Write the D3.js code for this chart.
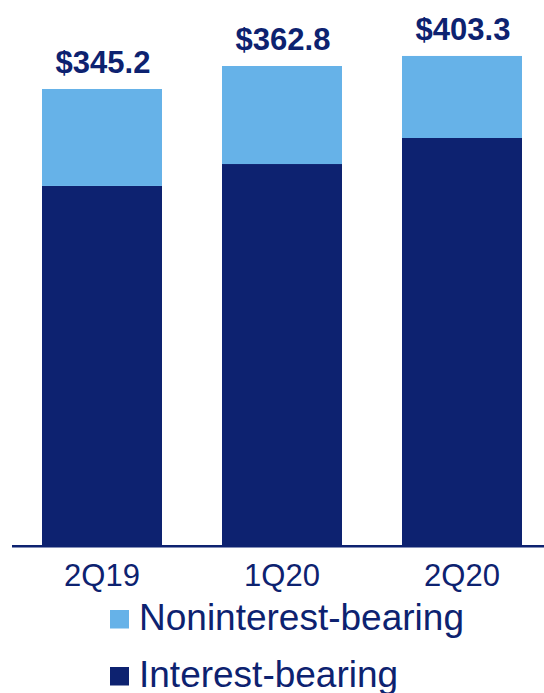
<!DOCTYPE html>
<html>
<head>
<meta charset="utf-8">
<script src="https://cdn.jsdelivr.net/npm/d3@7"></script>
<style>
  html, body { margin: 0; padding: 0; background: #fff; }
  svg { display: block; font-family: "Liberation Sans", Arial, sans-serif; }
</style>
</head>
<body>
<svg id="chart" width="544" height="693"></svg>
<script>
const categories = ["2Q19", "1Q20", "2Q20"];
const interestBearing = [271.8, 288.4, 308.1];
const nonInterestBearing = [73.4, 74.2, 62.1];
const totalLabels = ["$345.2", "$362.8", "$403.3"];
const seriesNames = ["Noninterest-bearing", "Interest-bearing"];

const navy = "#0D2270";
const light = "#66B2E8";

const svg = d3.select("#chart");
const baseY = 545;

const x = d3.scaleBand().domain(categories).range([12, 552])
  .paddingInner(1/3).paddingOuter(1/6);
const y = d3.scaleLinear().domain([0, 400]).range([baseY, baseY - 400 * 1.321]);

const rows = categories.map((c, i) => ({
  cat: c, ib: interestBearing[i], nib: nonInterestBearing[i], label: totalLabels[i]
}));

const stack = d3.stack().keys(["ib", "nib"]);
const layers = stack(rows);
const colors = { ib: navy, nib: light };

svg.selectAll("g.layer").data(layers).join("g")
  .attr("class", "layer")
  .attr("fill", d => colors[d.key])
  .selectAll("rect").data(d => d).join("rect")
  .attr("x", d => x(d.data.cat))
  .attr("width", x.bandwidth())
  .attr("y", d => y(d[1]))
  .attr("height", d => y(d[0]) - y(d[1]));

// baseline
svg.append("line")
  .attr("x1", 12).attr("x2", 552)
  .attr("y1", 546.3).attr("y2", 546.3)
  .attr("stroke", navy).attr("stroke-width", 2.6);

// total labels
svg.selectAll("text.total").data(rows).join("text")
  .attr("class", "total")
  .attr("x", d => x(d.cat) + x.bandwidth() / 2 + 1)
  .attr("y", d => y(d.ib + d.nib) - 16)
  .attr("text-anchor", "middle")
  .attr("font-size", 31).attr("font-weight", "bold")
  .attr("fill", navy)
  .text(d => d.label);

// category labels
svg.selectAll("text.cat").data(categories).join("text")
  .attr("class", "cat")
  .attr("x", d => x(d) + x.bandwidth() / 2)
  .attr("y", 586)
  .attr("text-anchor", "middle")
  .attr("font-size", 31)
  .attr("fill", navy)
  .text(d => d);

// legend
const legendColors = [light, navy];
const legend = svg.selectAll("g.leg").data(seriesNames).join("g")
  .attr("class", "leg")
  .attr("transform", (d, i) => `translate(110, ${i * 57})`);
legend.append("rect")
  .attr("x", 0).attr("y", 610).attr("width", 19).attr("height", 18.5)
  .attr("fill", (d, i) => legendColors[i]);
legend.append("text")
  .attr("x", 29).attr("y", 630)
  .attr("font-size", 37)
  .attr("fill", navy)
  .text(d => d);
</script>
</body>
</html>
